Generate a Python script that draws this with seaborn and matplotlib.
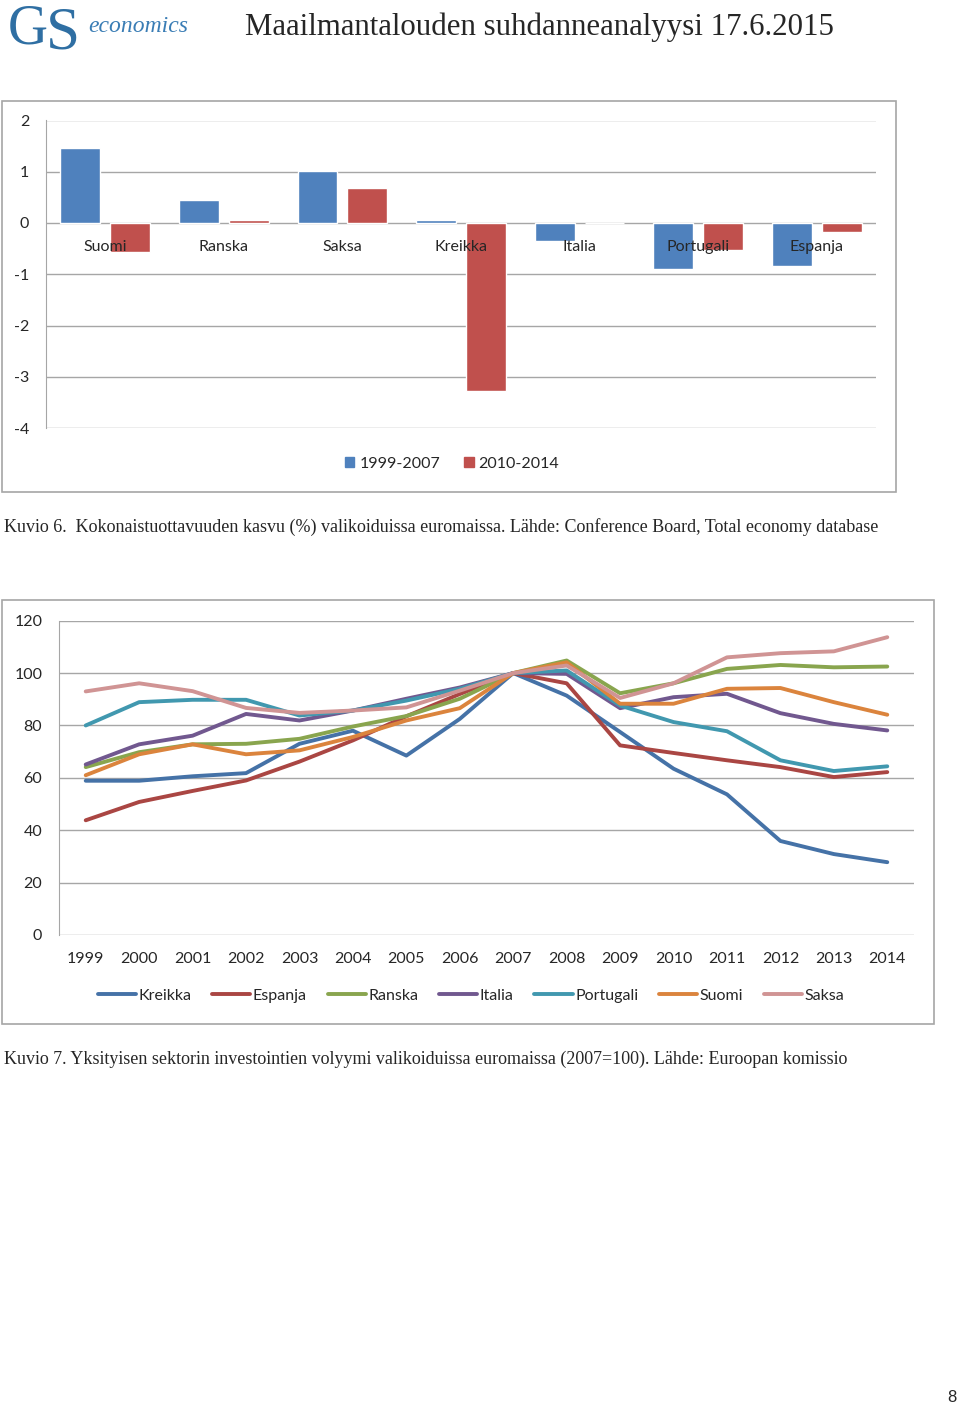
import pandas as pd
import matplotlib
matplotlib.use('Agg')
import matplotlib.pyplot as plt
from matplotlib.patches import Rectangle, Patch
from matplotlib.lines import Line2D
import seaborn as sns

# ---- data: Kuvio 6 (bar chart) ----
bar_countries = ['Suomi', 'Ranska', 'Saksa', 'Kreikka', 'Italia', 'Portugali', 'Espanja']
bar_periods = ['1999-2007', '2010-2014']
growth_1999_2007 = [1.46, 0.45, 1.02, 0.06, -0.35, -0.89, -0.83]
growth_2010_2014 = [-0.57, 0.06, 0.68, -3.27, 0.0, -0.53, -0.18]

# ---- data: Kuvio 7 (line chart, 2007=100) ----
years = list(range(1999, 2015))
line_countries = ['Kreikka', 'Espanja', 'Ranska', 'Italia', 'Portugali', 'Suomi', 'Saksa']
kreikka = [58.9, 58.9, 60.6, 61.8, 73.0, 78.0, 68.5, 82.5, 100, 91.4, 77.5, 63.5, 53.7, 35.9, 30.9, 27.8]
espanja = [43.8, 50.8, 55.0, 59.0, 66.2, 74.3, 83.5, 92.0, 100, 96.1, 72.4, 69.5, 66.7, 64.1, 60.3, 62.2]
ranska = [64.1, 69.8, 72.8, 73.0, 74.9, 79.6, 83.6, 90.2, 100, 104.8, 92.3, 96.1, 101.6, 103.1, 102.2, 102.5]
italia = [65.1, 72.8, 76.1, 84.4, 81.9, 85.7, 90.2, 94.5, 100, 99.7, 86.6, 90.8, 92.1, 84.7, 80.6, 78.1]
portugali = [80.0, 88.9, 89.8, 89.8, 83.8, 85.7, 89.5, 94.0, 100, 101.0, 87.6, 81.3, 77.8, 66.7, 62.6, 64.4]
suomi = [61.0, 69.0, 72.8, 69.0, 70.5, 75.6, 81.9, 86.6, 100, 104.1, 88.3, 88.3, 94.0, 94.3, 88.9, 84.1]
saksa = [93.0, 96.1, 93.1, 86.7, 84.8, 85.7, 86.9, 93.3, 100, 102.9, 90.5, 96.1, 106.0, 107.6, 108.3, 113.7]
line_values = [kreikka, espanja, ranska, italia, portugali, suomi, saksa]

bar_colors = ['#4F81BD', '#C0504D']
line_colors = ['#4572A7', '#AA4643', '#89A54E', '#71588F', '#4198AF', '#DB843D', '#D09494']
grid_color = '#A6A6A6'

W, H = 960, 1406

def fx(x):
    return x / W

def fy(y):
    return 1 - y / H

sns.set_style('white')
plt.rcParams['font.family'] = ['Lato', 'DejaVu Sans']
plt.rcParams['axes.unicode_minus'] = False

fig = plt.figure(figsize=(W / 100, H / 100), dpi=100)

# ---- header ----
fig.text(fx(8), fy(30), 'G', fontsize=40, color='#2F6FA3', family='Liberation Serif', va='center', ha='left')
fig.text(fx(46), fy(34), 'S', fontsize=44, color='#2F6FA3', family='Liberation Serif', va='center', ha='left')
fig.text(fx(88), fy(26), 'economics', fontsize=17, color='#3A7DB5', family='Liberation Serif',
         style='italic', va='center', ha='left')
fig.text(fx(245), fy(27), 'Maailmantalouden suhdanneanalyysi 17.6.2015', fontsize=22.2,
         family='Liberation Serif', va='center', ha='left')

# ---- bar chart ----
fig.patches.append(Rectangle((fx(2), fy(492)), fx(894), (492 - 101) / H, transform=fig.transFigure,
                             fill=False, edgecolor=grid_color, lw=1.2))
ax1 = fig.add_axes([fx(46), fy(428), fx(830), (428 - 120.5) / H])
bar_df = pd.DataFrame({
    'maa': bar_countries * 2,
    'jakso': [bar_periods[0]] * len(bar_countries) + [bar_periods[1]] * len(bar_countries),
    'kasvu': growth_1999_2007 + growth_2010_2014,
})
sns.barplot(data=bar_df, x='maa', y='kasvu', hue='jakso', palette=bar_colors, width=0.84, gap=0.2,
            saturation=1, legend=False, ax=ax1, zorder=3)
ax1.set_ylim(-4, 2)
ax1.set_xlim(-0.5, len(bar_countries) - 0.5)
ax1.set_yticks(range(-4, 3))
ax1.yaxis.grid(True, color=grid_color, lw=1.0)
ax1.set_axisbelow(True)
ax1.set_xticks([])
ax1.set_xlabel('')
ax1.set_ylabel('')
for s in ['top', 'right', 'bottom']:
    ax1.spines[s].set_visible(False)
ax1.spines['left'].set_color(grid_color)
ax1.tick_params(axis='y', length=0, pad=12, labelsize=11.5)
for i, name in enumerate(bar_countries):
    ax1.text(i, -0.47, name, ha='center', va='center', fontsize=11.5, zorder=5)

fig.legend(handles=[Patch(color=c, label=l) for c, l in zip(bar_colors, bar_periods)],
           loc='center', bbox_to_anchor=(fx(452), fy(464)), ncol=2, frameon=False, fontsize=11.5,
           handlelength=0.6, handleheight=0.6, handletextpad=0.3, columnspacing=1.5)

fig.text(fx(4), fy(527), 'Kuvio 6.  Kokonaistuottavuuden kasvu (%) valikoiduissa euromaissa. '
         'Lähde: Conference Board, Total economy database', fontsize=13,
         family='Liberation Serif', va='center', ha='left')

# ---- line chart ----
fig.patches.append(Rectangle((fx(2), fy(1024)), fx(932), (1024 - 600) / H, transform=fig.transFigure,
                             fill=False, edgecolor=grid_color, lw=1.2))
ax2 = fig.add_axes([fx(59), fy(935), fx(855), (935 - 620.7) / H])
rows = []
for name, vals in zip(line_countries, line_values):
    for yr, v in zip(years, vals):
        rows.append({'vuosi': yr, 'maa': name, 'arvo': v})
line_df = pd.DataFrame(rows)
sns.lineplot(data=line_df, x='vuosi', y='arvo', hue='maa', hue_order=line_countries,
             palette=line_colors, lw=2.8, legend=False, ax=ax2, zorder=3)
ax2.set_ylim(0, 120)
ax2.set_xlim(years[0] - 0.5, years[-1] + 0.5)
ax2.set_yticks(range(0, 121, 20))
ax2.set_xticks(years)
ax2.set_xticklabels([str(y) for y in years])
ax2.yaxis.grid(True, color=grid_color, lw=1.0)
ax2.set_axisbelow(True)
ax2.set_xlabel('')
ax2.set_ylabel('')
for s in ['top', 'right', 'bottom']:
    ax2.spines[s].set_visible(False)
ax2.spines['left'].set_color(grid_color)
ax2.tick_params(axis='y', length=0, pad=12, labelsize=11.5)
ax2.tick_params(axis='x', length=0, pad=12, labelsize=11.5)

fig.legend(handles=[Line2D([], [], color=c, lw=2.8, label=n) for c, n in zip(line_colors, line_countries)],
           loc='center', bbox_to_anchor=(fx(471), fy(996)), ncol=7, frameon=False, fontsize=11.5,
           handlelength=2.4, handletextpad=0.15, columnspacing=1.3)

fig.text(fx(4), fy(1059), 'Kuvio 7. Yksityisen sektorin investointien volyymi valikoiduissa euromaissa '
         '(2007=100). Lähde: Euroopan komissio', fontsize=13,
         family='Liberation Serif', va='center', ha='left')

fig.text(fx(957), fy(1397), '8', fontsize=12, family='Liberation Sans', va='center', ha='right')

fig.savefig('out.png', dpi=100)
